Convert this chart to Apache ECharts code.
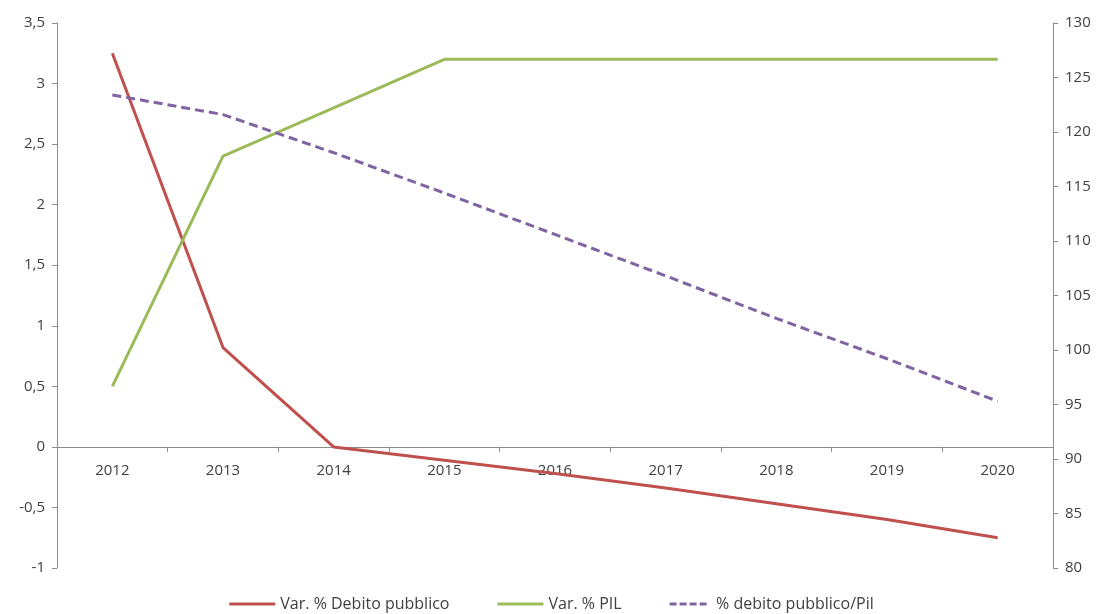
<!DOCTYPE html>
<html>
<head>
<meta charset="utf-8">
<script src="https://cdn.jsdelivr.net/npm/echarts@6/dist/echarts.min.js"></script>
<style>
  html, body { margin: 0; padding: 0; background: #fff; }
  #chart { width: 1103px; height: 614px; }
</style>
</head>
<body>
<div id="chart"></div>
<script>
// Years on the category axis
const years = ['2012', '2013', '2014', '2015', '2016', '2017', '2018', '2019', '2020'];
// Annual % change of public debt (left axis)
const varDebito = [3.25, 0.82, 0.0, -0.11, -0.22, -0.34, -0.47, -0.6, -0.75];
// Annual % change of GDP (left axis)
const varPil = [0.5, 2.4, 2.8, 3.2, 3.2, 3.2, 3.2, 3.2, 3.2];
// Public debt as % of GDP (right axis)
const debitoSuPil = [123.4, 121.6, 118.1, 114.4, 110.6, 106.8, 102.9, 99.2, 95.3];

// Left axis range
const leftMin = -1, leftMax = 3.5;

const axisColor = '#8c8c8c';
const textColor = '#404040';
const fontFamily = 'Open Sans, Lato, sans-serif';
const comma = v => String(v).replace('.', ',');

const gridTop = 23, gridBottom = 46, chartH = 614;
const plotH = chartH - gridTop - gridBottom;
// distance of the zero line above the plot bottom, so the year labels sit under it
const zeroFromBottom = plotH * (0 - leftMin) / (leftMax - leftMin);

const solidIcon = 'path://M0,0H46V3H0Z';
const dashIcon = 'path://M0,0H7V3H0Z M10,0H17V3H10Z M20,0H27V3H20Z M30,0H37V3H30Z';

const chart = echarts.init(document.getElementById('chart'));
chart.setOption({
  animation: false,
  textStyle: { fontFamily: fontFamily },
  grid: { left: 57, right: 50, top: gridTop, bottom: gridBottom, containLabel: false },
  legend: {
    bottom: -3,
    left: 'center',
    itemWidth: 46,
    itemHeight: 3,
    itemGap: 48,
    textStyle: { color: textColor, fontSize: 16, fontFamily: fontFamily },
    data: [
      { name: 'Var. % Debito pubblico', icon: solidIcon, itemStyle: { color: '#C0504D' } },
      { name: 'Var. % PIL', icon: solidIcon, itemStyle: { color: '#9BBB59' } },
      { name: '% debito pubblico/Pil', icon: dashIcon, itemStyle: { color: '#8064A2' } }
    ]
  },
  xAxis: {
    type: 'category',
    data: years,
    boundaryGap: true,
    axisLine: { onZero: true, onZeroAxisIndex: 0, lineStyle: { color: axisColor, width: 1 } },
    axisTick: { show: true, length: 5, inside: false, alignWithLabel: false, lineStyle: { color: axisColor } },
    axisLabel: { color: textColor, fontSize: 15, margin: 16 - zeroFromBottom },
    splitLine: { show: false }
  },
  yAxis: [
    {
      type: 'value',
      min: leftMin, max: leftMax, interval: 0.5,
      position: 'left',
      axisLine: { show: true, lineStyle: { color: axisColor } },
      axisTick: { show: true, length: 5, lineStyle: { color: axisColor } },
      axisLabel: { color: textColor, fontSize: 15, margin: 12, formatter: comma },
      splitLine: { show: false }
    },
    {
      type: 'value',
      min: 80, max: 130, interval: 5,
      position: 'right',
      axisLine: { show: true, lineStyle: { color: axisColor } },
      axisTick: { show: true, length: 5, lineStyle: { color: axisColor } },
      axisLabel: { color: textColor, fontSize: 15, margin: 12 },
      splitLine: { show: false }
    }
  ],
  series: [
    {
      name: 'Var. % Debito pubblico',
      type: 'line',
      yAxisIndex: 0,
      data: varDebito,
      symbol: 'none',
      color: '#C0504D',
      lineStyle: { color: '#C0504D', width: 3 }
    },
    {
      name: 'Var. % PIL',
      type: 'line',
      yAxisIndex: 0,
      data: varPil,
      symbol: 'none',
      color: '#9BBB59',
      lineStyle: { color: '#9BBB59', width: 3 }
    },
    {
      name: '% debito pubblico/Pil',
      type: 'line',
      yAxisIndex: 1,
      data: debitoSuPil,
      symbol: 'none',
      color: '#8064A2',
      lineStyle: { color: '#8064A2', width: 3, type: [9, 5] }
    }
  ]
});
</script>
</body>
</html>
